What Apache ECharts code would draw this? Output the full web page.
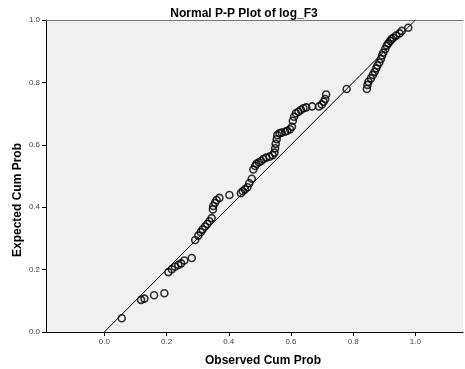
<!DOCTYPE html>
<html>
<head>
<meta charset="utf-8">
<script src="https://cdn.jsdelivr.net/npm/echarts@6/dist/echarts.min.js"></script>
<style>
html,body{margin:0;padding:0;background:#fff;}
#chart{width:465px;height:369px;}
</style>
</head>
<body>
<div id="chart"></div>
<script>
const titleText = "Normal P-P Plot of log_F3";
const xAxisName = "Observed Cum Prob";
const yAxisName = "Expected Cum Prob";
const tickValues = [0, 0.2, 0.4, 0.6, 0.8, 1.0];
const observed = [0.056,0.118,0.129,0.160,0.193,0.206,0.217,0.227,0.238,0.247,0.257,0.281,0.292,0.302,0.310,0.316,0.324,0.331,0.338,0.345,0.349,0.350,0.356,0.361,0.370,0.402,0.439,0.445,0.452,0.460,0.466,0.474,0.479,0.485,0.489,0.497,0.504,0.511,0.520,0.531,0.541,0.547,0.549,0.551,0.554,0.556,0.563,0.570,0.581,0.588,0.597,0.603,0.606,0.610,0.616,0.624,0.632,0.640,0.649,0.668,0.690,0.699,0.705,0.710,0.713,0.779,0.844,0.846,0.849,0.857,0.863,0.869,0.874,0.878,0.884,0.889,0.893,0.897,0.903,0.908,0.913,0.919,0.924,0.929,0.938,0.949,0.956,0.977];
const expected = [0.044,0.103,0.107,0.118,0.124,0.192,0.201,0.209,0.215,0.220,0.229,0.237,0.295,0.309,0.320,0.329,0.338,0.346,0.355,0.365,0.393,0.404,0.414,0.423,0.430,0.439,0.445,0.451,0.457,0.464,0.477,0.491,0.521,0.532,0.539,0.544,0.548,0.554,0.559,0.562,0.567,0.575,0.589,0.603,0.618,0.631,0.637,0.639,0.642,0.645,0.650,0.658,0.677,0.690,0.701,0.706,0.712,0.717,0.720,0.723,0.723,0.729,0.738,0.747,0.761,0.779,0.779,0.792,0.802,0.813,0.824,0.834,0.845,0.854,0.864,0.875,0.886,0.896,0.907,0.918,0.925,0.933,0.939,0.943,0.950,0.957,0.965,0.975];
const refX = [0, 1];
const refY = [0, 1];

const chart = echarts.init(document.getElementById('chart'), null, {renderer: 'canvas'});
const font = "'Liberation Sans', Arial, sans-serif";
const pts = observed.map((x, i) => [x, expected[i]]);
const ref = refX.map((x, i) => [x, refY[i]]);
chart.setOption({
  animation: false,
  backgroundColor: '#ffffff',
  title: {
    text: titleText, left: 239, top: 3, textAlign: 'center',
    textStyle: {fontFamily: font, fontSize: 12, fontWeight: 'bold', color: '#000'}
  },
  grid: {left: 46, right: 2, top: 20, bottom: 37, show: true, backgroundColor: '#f0f0f0', borderWidth: 0},
  xAxis: [{
    type: 'value', min: -0.1875, max: 1.153, position: 'bottom',
    splitLine: {show: false},
    axisLine: {show: true, onZero: false, lineStyle: {color: '#000', width: 1}},
    axisTick: {show: true, length: 4, customValues: tickValues, lineStyle: {color: '#000'}},
    axisLabel: {customValues: tickValues, margin: 6, fontFamily: font, fontSize: 8, color: '#444',
      formatter: v => v.toFixed(1)}
  }, {
    type: 'value', min: -0.1875, max: 1.153, position: 'top',
    splitLine: {show: false},
    axisLine: {show: true, onZero: false, lineStyle: {color: '#777', width: 1}},
    axisTick: {show: false}, axisLabel: {show: false}
  }],
  yAxis: {
    type: 'value', min: 0, max: 1, interval: 0.2,
    splitLine: {show: false},
    axisLine: {show: true, onZero: false, lineStyle: {color: '#000', width: 1}},
    axisTick: {show: true, length: 4, lineStyle: {color: '#000'}},
    axisLabel: {margin: 6, fontFamily: font, fontSize: 8, color: '#444', formatter: v => v.toFixed(1)}
  },
  graphic: [
    {type: 'text', left: 205, top: 355, style: {text: xAxisName, font: "bold 12px " + font, fill: '#000'}},
    {type: 'text', x: 18, y: 200, rotation: Math.PI / 2, style: {text: yAxisName, font: "bold 12px " + font, fill: '#000', align: 'center', verticalAlign: 'middle'}}
  ],
  series: [{
    type: 'line', data: ref, symbol: 'none', xAxisIndex: 0,
    lineStyle: {color: '#000', width: 1}, silent: true
  }, {
    type: 'scatter', data: pts, xAxisIndex: 0, symbol: 'circle', symbolSize: 7,
    itemStyle: {color: 'rgba(0,0,0,0)', borderColor: '#000', borderWidth: 1.6}
  }]
});
</script>
</body>
</html>
